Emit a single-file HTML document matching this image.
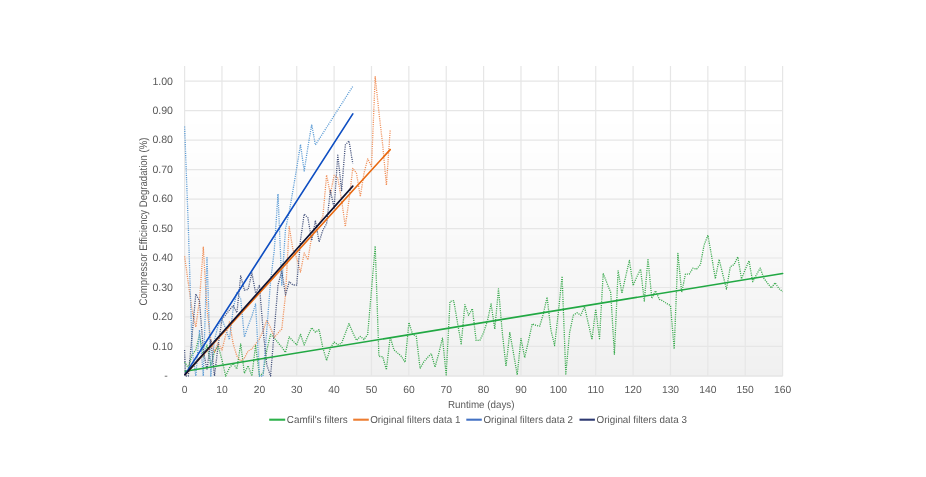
<!DOCTYPE html>
<html><head><meta charset="utf-8"><style>
html,body{margin:0;padding:0;background:#fff;}
svg{display:block;will-change:transform;}
text{font-family:"Liberation Sans",sans-serif;fill:#595959;text-rendering:geometricPrecision;}
</style></head><body>
<svg width="926" height="477" viewBox="0 0 926 477">
<rect x="184.60" y="124" width="598.00" height="29" fill="rgb(254,254,254)"/>
<rect x="184.60" y="153" width="598.00" height="24" fill="rgb(253,253,253)"/>
<rect x="184.60" y="177" width="598.00" height="21" fill="rgb(252,252,252)"/>
<rect x="184.60" y="198" width="598.00" height="19" fill="rgb(251,251,251)"/>
<rect x="184.60" y="217" width="598.00" height="18" fill="rgb(250,250,250)"/>
<rect x="184.60" y="235" width="598.00" height="17" fill="rgb(249,249,249)"/>
<rect x="184.60" y="252" width="598.00" height="16" fill="rgb(248,248,248)"/>
<rect x="184.60" y="268" width="598.00" height="16" fill="rgb(247,247,247)"/>
<rect x="184.60" y="284" width="598.00" height="15" fill="rgb(246,246,246)"/>
<rect x="184.60" y="299" width="598.00" height="15" fill="rgb(245,245,245)"/>
<rect x="184.60" y="314" width="598.00" height="14" fill="rgb(244,244,244)"/>
<rect x="184.60" y="328" width="598.00" height="14" fill="rgb(243,243,243)"/>
<rect x="184.60" y="342" width="598.00" height="14" fill="rgb(242,242,242)"/>
<rect x="184.60" y="356" width="598.00" height="13" fill="rgb(241,241,241)"/>
<rect x="184.60" y="369" width="598.00" height="8" fill="rgb(240,240,240)"/>
<g stroke="#e6e6e6" stroke-width="1.2">
<line x1="184.60" y1="66" x2="184.60" y2="375.90"/>
<line x1="221.97" y1="66" x2="221.97" y2="375.90"/>
<line x1="259.35" y1="66" x2="259.35" y2="375.90"/>
<line x1="296.73" y1="66" x2="296.73" y2="375.90"/>
<line x1="334.10" y1="66" x2="334.10" y2="375.90"/>
<line x1="371.48" y1="66" x2="371.48" y2="375.90"/>
<line x1="408.85" y1="66" x2="408.85" y2="375.90"/>
<line x1="446.23" y1="66" x2="446.23" y2="375.90"/>
<line x1="483.60" y1="66" x2="483.60" y2="375.90"/>
<line x1="520.98" y1="66" x2="520.98" y2="375.90"/>
<line x1="558.35" y1="66" x2="558.35" y2="375.90"/>
<line x1="595.73" y1="66" x2="595.73" y2="375.90"/>
<line x1="633.10" y1="66" x2="633.10" y2="375.90"/>
<line x1="670.48" y1="66" x2="670.48" y2="375.90"/>
<line x1="707.85" y1="66" x2="707.85" y2="375.90"/>
<line x1="745.23" y1="66" x2="745.23" y2="375.90"/>
<line x1="782.60" y1="66" x2="782.60" y2="375.90"/>
<line x1="184.60" y1="375.90" x2="782.60" y2="375.90"/>
<line x1="184.60" y1="346.43" x2="782.60" y2="346.43"/>
<line x1="184.60" y1="316.96" x2="782.60" y2="316.96"/>
<line x1="184.60" y1="287.49" x2="782.60" y2="287.49"/>
<line x1="184.60" y1="258.02" x2="782.60" y2="258.02"/>
<line x1="184.60" y1="228.55" x2="782.60" y2="228.55"/>
<line x1="184.60" y1="199.08" x2="782.60" y2="199.08"/>
<line x1="184.60" y1="169.61" x2="782.60" y2="169.61"/>
<line x1="184.60" y1="140.14" x2="782.60" y2="140.14"/>
<line x1="184.60" y1="110.67" x2="782.60" y2="110.67"/>
<line x1="184.60" y1="81.20" x2="782.60" y2="81.20"/>
</g>
<g font-size="10.6">
<text x="167.8" y="379.2" text-anchor="end">-</text>
<text x="173" y="349.7" text-anchor="end">0.10</text>
<text x="173" y="320.3" text-anchor="end">0.20</text>
<text x="173" y="290.8" text-anchor="end">0.30</text>
<text x="173" y="261.3" text-anchor="end">0.40</text>
<text x="173" y="231.8" text-anchor="end">0.50</text>
<text x="173" y="202.4" text-anchor="end">0.60</text>
<text x="173" y="172.9" text-anchor="end">0.70</text>
<text x="173" y="143.4" text-anchor="end">0.80</text>
<text x="173" y="114.0" text-anchor="end">0.90</text>
<text x="173" y="84.5" text-anchor="end">1.00</text>
</g>
<g font-size="10.3">
<text x="184.6" y="393.4" text-anchor="middle">0</text>
<text x="222.0" y="393.4" text-anchor="middle">10</text>
<text x="259.4" y="393.4" text-anchor="middle">20</text>
<text x="296.7" y="393.4" text-anchor="middle">30</text>
<text x="334.1" y="393.4" text-anchor="middle">40</text>
<text x="371.5" y="393.4" text-anchor="middle">50</text>
<text x="408.9" y="393.4" text-anchor="middle">60</text>
<text x="446.2" y="393.4" text-anchor="middle">70</text>
<text x="483.6" y="393.4" text-anchor="middle">80</text>
<text x="521.0" y="393.4" text-anchor="middle">90</text>
<text x="558.4" y="393.4" text-anchor="middle">100</text>
<text x="595.7" y="393.4" text-anchor="middle">110</text>
<text x="633.1" y="393.4" text-anchor="middle">120</text>
<text x="670.5" y="393.4" text-anchor="middle">130</text>
<text x="707.9" y="393.4" text-anchor="middle">140</text>
<text x="745.2" y="393.4" text-anchor="middle">150</text>
<text x="782.6" y="393.4" text-anchor="middle">160</text>
</g>
<text font-size="11.0" transform="translate(146.7,305.5) rotate(-90)" textLength="168.0" lengthAdjust="spacingAndGlyphs">Compressor Efficiency Degradation (%)</text>
<text font-size="10.3" x="448.0" y="407.8" textLength="66.5" lengthAdjust="spacingAndGlyphs">Runtime (days)</text>
<g>
<polyline fill="none" stroke="#3aaa4e" stroke-width="1.3" stroke-dasharray="1.1 1.1" stroke-linejoin="round" points="184.6,362.0 188.3,368.0 192.1,354.5 195.8,350.0 199.5,335.0 203.3,357.0 207.0,345.0 210.8,365.0 214.5,352.0 218.2,345.7 222.0,360.0 225.7,376.0 229.4,368.0 233.2,363.3 236.9,369.0 240.7,343.8 244.4,373.3 248.1,365.8 251.9,376.0 255.6,345.0 259.4,375.9 263.1,373.3 266.8,350.0 270.6,334.3 274.3,338.1 278.0,342.6 281.8,347.2 285.5,352.4 289.2,336.9 293.0,341.0 296.7,344.7 300.5,334.3 304.2,345.0 307.9,336.0 311.7,327.7 315.4,332.2 319.1,329.6 322.9,348.1 326.6,360.5 330.4,348.1 334.1,342.1 337.8,344.7 341.6,343.3 345.3,333.4 349.0,323.6 352.8,332.6 356.5,340.3 360.3,336.4 364.0,339.5 367.7,334.3 371.5,290.0 375.2,246.0 378.9,356.4 382.7,356.7 386.4,369.7 390.2,336.9 393.9,349.8 397.6,353.0 401.4,356.4 405.1,362.3 408.9,322.5 412.6,334.3 416.3,336.4 420.1,368.5 423.8,361.9 427.5,357.6 431.3,353.6 435.0,367.1 438.8,353.3 442.5,338.1 446.2,374.9 450.0,301.5 453.7,300.6 457.4,322.2 461.2,343.8 464.9,304.6 468.6,315.3 472.4,308.7 476.1,340.3 479.9,340.3 483.6,332.6 487.3,321.3 491.1,304.0 494.8,329.1 498.5,288.9 502.3,332.6 506.0,366.3 509.8,332.6 513.5,353.3 517.2,374.9 521.0,338.6 524.7,357.6 528.4,341.2 532.2,323.9 535.9,325.3 539.7,326.2 543.4,313.6 547.1,297.2 550.9,330.0 554.6,345.5 558.4,312.0 562.1,276.3 565.8,374.0 569.6,332.6 573.3,315.3 577.0,312.7 580.8,315.3 584.5,306.6 588.2,323.0 592.0,339.5 595.7,309.2 599.5,338.6 603.2,273.3 606.9,283.0 610.7,292.4 614.4,354.2 618.1,270.8 621.9,293.3 625.6,276.8 629.4,260.4 633.1,285.5 636.8,276.8 640.6,269.1 644.3,301.0 648.0,258.7 651.8,298.4 655.5,290.7 659.3,299.3 663.0,301.0 666.7,303.6 670.5,305.5 674.2,349.0 677.9,253.5 681.7,292.4 685.4,274.2 689.2,274.2 692.9,268.2 696.6,269.1 700.4,264.7 704.1,245.0 707.9,235.2 711.6,256.0 715.3,278.8 719.1,259.4 722.8,274.4 726.5,289.0 730.3,266.7 734.0,264.7 737.8,256.9 741.5,278.8 745.2,269.6 749.0,260.8 752.7,281.7 756.4,274.9 760.2,268.1 763.9,278.3 767.6,283.2 771.4,288.0 775.1,282.7 778.9,288.5 782.6,291.7"/>
<polyline fill="none" stroke="#f0905a" stroke-width="1.3" stroke-dasharray="1.1 1.1" stroke-linejoin="round" points="184.6,256.3 188.3,283.0 192.1,311.0 195.8,327.0 199.5,300.0 203.3,247.2 207.0,309.0 210.8,340.0 214.5,352.0 218.2,343.0 222.0,350.0 225.7,335.0 229.4,322.0 233.2,344.0 236.9,356.0 240.7,361.0 244.4,358.0 248.1,351.0 251.9,349.0 255.6,344.0 259.4,339.0 263.1,331.0 266.8,320.0 270.6,328.0 274.3,337.5 278.0,333.0 281.8,329.0 285.5,295.0 289.2,226.7 293.0,250.0 296.7,258.0 300.5,272.0 304.2,253.0 307.9,259.8 311.7,236.3 315.4,228.7 319.1,224.5 322.9,216.1 326.6,175.1 330.4,194.0 334.1,175.3 337.8,178.0 341.6,200.0 345.3,226.5 349.0,200.0 352.8,168.3 356.5,173.3 360.3,196.5 364.0,173.3 367.7,158.8 371.5,166.4 375.2,76.7 378.9,112.0 382.7,145.0 386.4,185.2 390.2,129.7"/>
<polyline fill="none" stroke="#5b9bd5" stroke-width="1.3" stroke-dasharray="1.1 1.1" stroke-linejoin="round" points="184.6,126.5 188.3,226.0 192.1,350.0 195.8,376.0 199.5,330.0 203.3,376.0 207.0,256.7 210.8,376.0 214.5,340.0 218.2,325.0 222.0,319.0 225.7,329.0 229.4,339.6 233.2,308.8 236.9,292.0 240.7,299.0 244.4,337.0 248.1,326.0 251.9,316.0 255.6,304.0 259.4,376.0 263.1,376.0 266.8,330.0 270.6,281.0 274.3,250.0 278.0,193.9 281.8,285.0 285.5,229.0 289.2,212.0 293.0,190.0 296.7,168.0 300.5,144.5 304.2,171.0 307.9,147.0 311.7,124.5 315.4,145.0 319.1,139.1 322.9,133.3 326.6,127.4 330.4,121.6 334.1,115.7 337.8,109.8 341.6,104.0 345.3,98.1 349.0,92.3 352.8,86.4"/>
<polyline fill="none" stroke="#44527c" stroke-width="1.3" stroke-dasharray="1.1 1.1" stroke-linejoin="round" points="184.6,350.0 185.4,376.0 188.3,376.0 192.1,335.0 195.8,294.0 199.5,301.0 203.3,350.0 207.0,370.0 210.8,340.0 214.5,376.0 218.2,345.0 222.0,319.0 225.7,315.0 229.4,310.0 233.2,305.6 236.9,312.7 240.7,276.0 244.4,290.0 248.1,289.5 251.9,273.0 255.6,293.0 259.4,285.5 263.1,330.0 266.8,365.0 270.6,376.0 274.3,330.0 278.0,285.0 281.8,271.0 285.5,295.0 289.2,281.8 293.0,285.0 296.7,285.0 300.5,240.0 304.2,214.0 307.9,217.8 311.7,240.5 315.4,220.5 319.1,242.0 322.9,230.0 326.6,223.7 330.4,190.5 334.1,208.0 337.8,155.2 341.6,190.5 345.3,145.0 349.0,140.9 352.8,163.6"/>
</g>
<g>
<line x1="185.3" y1="371.3" x2="782.6" y2="273.5" stroke="#21a843" stroke-width="1.65" stroke-linecap="round"/>
<line x1="185.0" y1="374.6" x2="390.2" y2="149.6" stroke="#e8680f" stroke-width="1.65" stroke-linecap="round"/>
<line x1="185.0" y1="374.6" x2="352.8" y2="113.9" stroke="#0e4ec2" stroke-width="1.65" stroke-linecap="round"/>
<line x1="185.0" y1="374.6" x2="352.8" y2="186.1" stroke="#0f1230" stroke-width="1.65" stroke-linecap="round"/>
</g>
<g font-size="10.2">
<line x1="269.2" y1="419.7" x2="285.2" y2="419.7" stroke="#2db14b" stroke-width="2.1"/>
<text x="286.8" y="422.8" textLength="61.0" lengthAdjust="spacingAndGlyphs">Camfil&#39;s filters</text>
<line x1="353.2" y1="419.7" x2="368.8" y2="419.7" stroke="#ed7d31" stroke-width="2.1"/>
<text x="370.2" y="422.8" textLength="90.3" lengthAdjust="spacingAndGlyphs">Original filters data 1</text>
<line x1="466.3" y1="419.7" x2="481.8" y2="419.7" stroke="#4472c4" stroke-width="2.1"/>
<text x="483.5" y="422.8" textLength="89.5" lengthAdjust="spacingAndGlyphs">Original filters data 2</text>
<line x1="579.5" y1="419.7" x2="594.9" y2="419.7" stroke="#2e3a72" stroke-width="2.1"/>
<text x="596.6" y="422.8" textLength="90.3" lengthAdjust="spacingAndGlyphs">Original filters data 3</text>
</g>
</svg>
</body></html>
